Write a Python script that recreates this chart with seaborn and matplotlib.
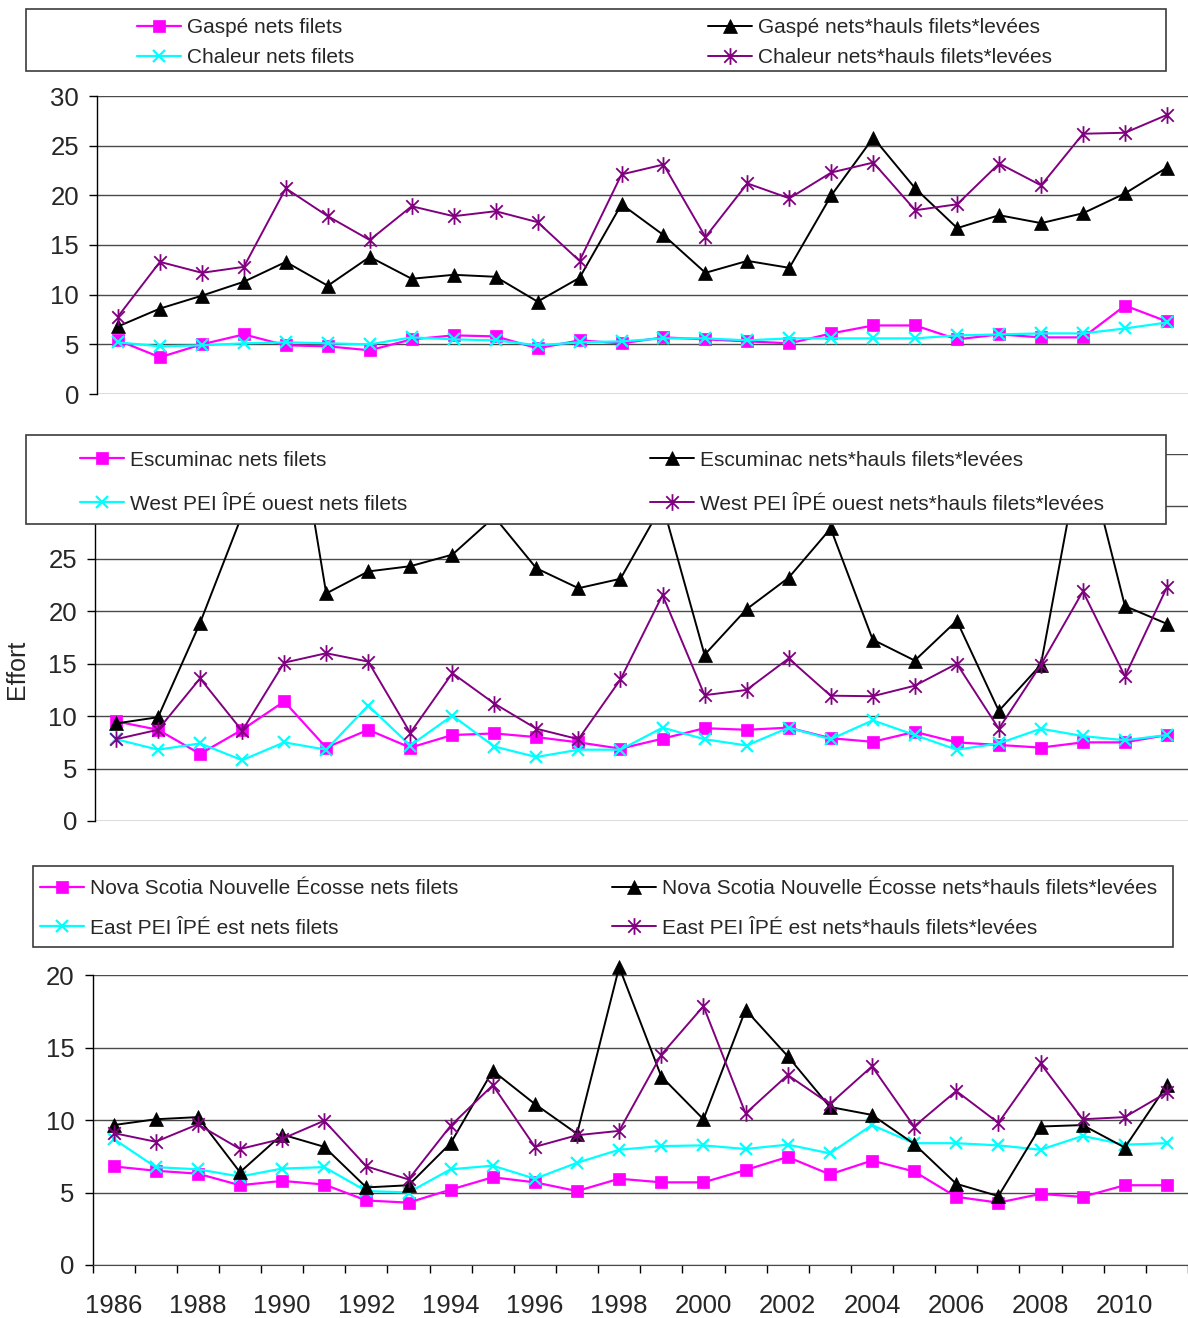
import matplotlib
matplotlib.use("Agg")
import matplotlib.pyplot as plt
from matplotlib.path import Path
from matplotlib.patches import Rectangle
import numpy as np
import pandas as pd
import seaborn as sns

years = list(range(1986, 2012))
year_labels = [str(y) for y in range(1986, 2011, 2)]

# panel 1 - Gaspé / Chaleur
gaspe_nets = [5.4, 3.7, 5.0, 6.0, 4.9, 4.8, 4.4, 5.5, 5.9, 5.8, 4.6, 5.4, 5.1,
              5.7, 5.5, 5.3, 5.1, 6.1, 6.9, 6.9, 5.5, 6.0, 5.7, 5.7, 8.9, 7.3]
gaspe_effort = [6.8, 8.6, 9.9, 11.3, 13.3, 10.9, 13.8, 11.6, 12.0, 11.8, 9.3, 11.7, 19.1,
                16.0, 12.2, 13.4, 12.7, 20.0, 25.8, 20.7, 16.7, 18.0, 17.2, 18.2, 20.2, 22.8]
chaleur_nets = [5.2, 4.8, 4.9, 5.1, 5.2, 5.1, 5.0, 5.7, 5.5, 5.4, 4.9, 5.2, 5.3,
                5.6, 5.6, 5.4, 5.6, 5.6, 5.6, 5.6, 5.9, 6.0, 6.1, 6.1, 6.6, 7.2]
chaleur_effort = [7.8, 13.3, 12.2, 12.8, 20.7, 17.9, 15.5, 18.9, 17.9, 18.4, 17.3, 13.4, 22.1,
                  23.1, 15.8, 21.2, 19.7, 22.3, 23.3, 18.5, 19.1, 23.2, 21.0, 26.2, 26.3, 28.1]

# panel 2 - Escuminac / West PEI
escum_nets = [9.5, 8.7, 6.4, 8.7, 11.4, 7.0, 8.7, 7.0, 8.2, 8.35, 8.0, 7.5, 6.9,
              7.85, 8.85, 8.7, 8.9, 7.9, 7.55, 8.5, 7.5, 7.25, 7.0, 7.5, 7.5, 8.2]
escum_effort = [9.3, 9.9, 18.9, 29.2, 46.0, 21.7, 23.8, 24.3, 25.4, 29.0, 24.1, 22.2, 23.1,
                30.2, 15.85, 20.2, 23.2, 27.9, 17.3, 15.3, 19.1, 10.5, 14.9, 36.4, 20.5, 18.8]
westpei_nets = [7.8, 6.8, 7.4, 5.8, 7.5, 6.8, 11.0, 7.2, 10.05, 7.1, 6.1, 6.8, 6.8,
                8.9, 7.8, 7.2, 8.9, 7.8, 9.6, 8.2, 6.8, 7.4, 8.8, 8.1, 7.7, 8.2]
westpei_effort = [7.8, 8.7, 13.6, 8.6, 15.1, 16.0, 15.2, 8.4, 14.1, 11.2, 8.8, 7.8, 13.5,
                  21.55, 12.0, 12.5, 15.5, 11.95, 11.9, 12.9, 15.0, 8.8, 14.9, 21.9, 13.8, 22.3]

# panel 3 - Nova Scotia / East PEI
ns_nets = [6.8, 6.5, 6.3, 5.5, 5.8, 5.55, 4.45, 4.3, 5.2, 6.05, 5.7, 5.1, 5.95,
           5.7, 5.7, 6.55, 7.45, 6.25, 7.2, 6.45, 4.7, 4.3, 4.9, 4.7, 5.5, 5.5]
ns_effort = [9.65, 10.05, 10.2, 6.4, 9.0, 8.15, 5.35, 5.5, 8.4, 13.4, 11.1, 9.05, 20.55,
             13.0, 10.05, 17.6, 14.4, 10.9, 10.35, 8.35, 5.6, 4.75, 9.55, 9.65, 8.1, 12.4]
eastpei_nets = [8.7, 6.75, 6.6, 6.1, 6.65, 6.75, 5.1, 5.0, 6.6, 6.85, 5.95, 7.05, 7.95,
                8.2, 8.25, 8.0, 8.3, 7.7, 9.65, 8.4, 8.4, 8.25, 7.95, 8.9, 8.3, 8.4]
eastpei_effort = [9.1, 8.5, 9.7, 8.0, 8.7, 9.95, 6.8, 5.9, 9.6, 12.4, 8.15, 8.95, 9.25,
                  14.5, 17.85, 10.45, 13.1, 11.1, 13.7, 9.55, 12.0, 9.8, 13.9, 10.05, 10.2, 11.9]

labels_top = ["Gaspé nets filets", "Chaleur nets filets",
              "Gaspé nets*hauls filets*levées", "Chaleur nets*hauls filets*levées"]
labels_mid = ["Escuminac nets filets", "West PEI ÎPÉ ouest nets filets",
              "Escuminac nets*hauls filets*levées", "West PEI ÎPÉ ouest nets*hauls filets*levées"]
labels_bot = ["Nova Scotia Nouvelle Écosse nets filets", "East PEI ÎPÉ est nets filets",
              "Nova Scotia Nouvelle Écosse nets*hauls filets*levées",
              "East PEI ÎPÉ est nets*hauls filets*levées"]

sns.set_style("white")
plt.rcParams['font.family'] = ['Liberation Sans', 'DejaVu Sans']

W, H = 1188, 1318
fig = plt.figure(figsize=(W / 100, H / 100), dpi=100)

# excel-like asterisk (vertical bar + X)
star = Path([(0, -1), (0, 1), (-0.75, -0.75), (0.75, 0.75), (-0.75, 0.75), (0.75, -0.75)],
            [Path.MOVETO, Path.LINETO] * 3)

# order: nets (square), nets (x), effort (triangle), effort (asterisk)
styles = [
    dict(color='#ff00ff', marker='s', markersize=8.5, markeredgecolor='#ff00ff', markeredgewidth=0.5, linewidth=1.6),
    dict(color='#00ffff', marker='x', markersize=8.5, markeredgecolor='#00ffff', markeredgewidth=1.6, linewidth=1.6),
    dict(color='black', marker='^', markersize=9.5, markeredgecolor='black', markeredgewidth=0.5, linewidth=1.4),
    dict(color='#800080', marker=star, markersize=12, markeredgecolor='#800080', markeredgewidth=1.3, linewidth=1.4),
]

x = np.arange(len(years))


def px_rect(left, top, right, bottom):
    return [left / W, 1 - bottom / H, (right - left) / W, (bottom - top) / H]


def draw_panel(rect, series, labels, ymax, clip=True):
    ax = fig.add_axes(rect)
    lines = []
    for vals, st, lab in zip(series, styles, labels):
        sns.lineplot(x=x, y=vals, ax=ax, errorbar=None, legend=False, clip_on=clip, **st)
        ln = ax.lines[-1]
        ln.set_label(lab)
        lines.append(ln)
    ax.set_xlim(-0.5, len(years) - 0.5)
    ax.set_ylim(0, ymax)
    ax.set_yticks(np.arange(0, ymax + 1, 5))
    ax.yaxis.grid(True, color='#4a4a4a', linewidth=1)
    ax.set_axisbelow(True)
    for s in ['top', 'right', 'bottom']:
        ax.spines[s].set_visible(False)
    ax.spines['left'].set_color('black')
    ax.spines['left'].set_linewidth(1)
    ax.tick_params(axis='y', direction='out', length=6, width=1, color='black',
                   labelsize=18.5, pad=7, left=True)
    ax.set_xticks([])
    ax.set_ylabel('')
    ax.set_xlabel('')
    return ax, lines


def draw_legend(lines, box, col_x, rows_y, spacing):
    left, top, right, bottom = box
    fig.add_artist(Rectangle((left / W, 1 - bottom / H), (right - left) / W, (bottom - top) / H,
                             transform=fig.transFigure, facecolor='white',
                             edgecolor='#3c3c3c', linewidth=1.2, zorder=3))
    yc = 1 - ((rows_y[0] + rows_y[1]) / 2 + 2) / H
    for i, cx in enumerate(col_x):
        leg = fig.legend(lines[2 * i:2 * i + 2], [l.get_label() for l in lines[2 * i:2 * i + 2]],
                         loc='center left', bbox_to_anchor=(cx / W, yc), frameon=False,
                         borderpad=0, borderaxespad=0, handlelength=2.1, handletextpad=0.3,
                         labelspacing=spacing, fontsize=15)
        leg.set_zorder(4)


ax1, l1 = draw_panel(px_rect(97, 96, 1188, 394),
                     [gaspe_nets, chaleur_nets, gaspe_effort, chaleur_effort], labels_top, 30)
ax2, l2 = draw_panel(px_rect(95, 454, 1188, 821),
                     [escum_nets, westpei_nets, escum_effort, westpei_effort], labels_mid, 35)
ax3, l3 = draw_panel(px_rect(92.5, 975, 1188, 1265),
                     [ns_nets, eastpei_nets, ns_effort, eastpei_effort], labels_bot, 20, clip=False)

# bottom axis: ticks between categories, year labels under points
ax3.spines['bottom'].set_visible(True)
ax3.spines['bottom'].set_color('#4a4a4a')
ax3.set_xticks(np.arange(-0.5, len(years), 1))
ax3.set_xticklabels([])
ax3.set_xticks(np.arange(0, len(years) - 1, 2), minor=True)
ax3.set_xticklabels(year_labels, minor=True)
ax3.tick_params(axis='x', which='major', direction='out', length=6, width=1, color='black', bottom=True)
ax3.tick_params(axis='x', which='minor', length=0, labelsize=18.5, pad=21, bottom=True)

fig.text(17 / W, 1 - 669 / H, 'Effort', rotation=90, ha='center', va='center', fontsize=18)

draw_legend(l1, (26, 9, 1166, 71), (137, 708), (25.7, 55.7), 0.5)
draw_legend(l2, (26, 435, 1166, 524), (80, 650), (458, 502), 1.2)
draw_legend(l3, (33, 866, 1173, 947), (40, 612), (886, 927), 0.96)

fig.savefig('out.png', dpi=100, facecolor='white')
